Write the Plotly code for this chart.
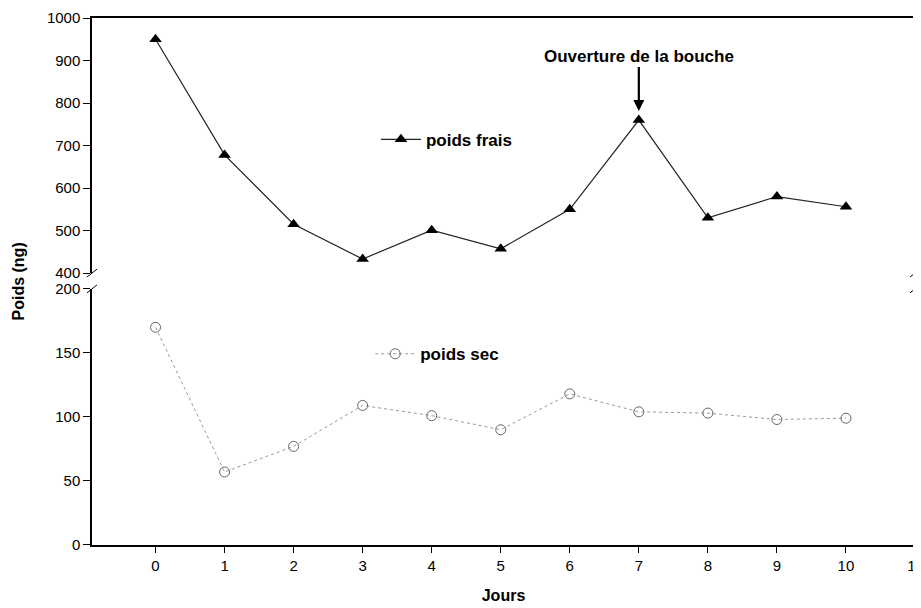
import plotly.graph_objects as go

jours = [0, 1, 2, 3, 4, 5, 6, 7, 8, 9, 10]
poids_frais = [950, 678, 515, 433, 501, 457, 550, 760, 530, 580, 556]
poids_sec = [170, 57, 77, 109, 101, 90, 118, 104, 103, 98, 99]
x_ticks = list(range(0, 12))
y_ticks_haut = [400, 500, 600, 700, 800, 900, 1000]
y_ticks_bas = [0, 50, 100, 150, 200]

FONT = "Liberation Sans, Arial, sans-serif"

fig = go.Figure()

fig.add_trace(go.Scatter(
    x=jours, y=poids_frais, name="<b>poids frais</b>", mode="lines+markers",
    xaxis="x2", yaxis="y2", legend="legend",
    line=dict(color="#222222", width=1.2),
    marker=dict(symbol="triangle-up", size=11, color="black"),
))
fig.add_trace(go.Scatter(
    x=jours, y=poids_sec, name="<b>poids sec</b>", mode="lines+markers",
    xaxis="x", yaxis="y", legend="legend2",
    line=dict(color="#9a9a9a", width=1, dash="dot"),
    marker=dict(symbol="circle-open", size=10, color="#666666", line=dict(width=1)),
))

xr = [-0.92, 11]
low_top = 0.486
up_bot = 0.516

fig.update_layout(
    width=921, height=608,
    margin=dict(l=84, r=14, t=10, b=71, autoexpand=False),
    paper_bgcolor="white", plot_bgcolor="white",
    font=dict(family=FONT, size=15, color="black"),
    xaxis=dict(domain=[0, 1], range=xr, anchor="y", tickvals=x_ticks,
               ticks="outside", ticklen=6, tickcolor="black", showgrid=False,
               zeroline=False, showline=True, linecolor="black", linewidth=1.5,
               tickfont=dict(size=15), automargin=False, ticklabeloverflow="allow",
               title=dict(text="<b>Jours</b>", font=dict(size=16), standoff=17)),
    xaxis2=dict(domain=[0, 1], range=xr, anchor="y2", side="top", matches="x",
                showticklabels=False, ticks="", showgrid=False, zeroline=False,
                showline=True, linecolor="black", linewidth=1.5, automargin=False),
    yaxis=dict(domain=[0, low_top], range=[0, 200], tickvals=y_ticks_bas,
               ticks="outside", ticklen=7, tickcolor="black", showgrid=False,
               zeroline=False, showline=True, mirror=True, linecolor="black",
               linewidth=1.5, tickfont=dict(size=15), automargin=False,
               ticklabeloverflow="allow"),
    yaxis2=dict(domain=[up_bot, 1], range=[400, 1000], tickvals=y_ticks_haut,
                ticks="outside", ticklen=7, tickcolor="black", showgrid=False,
                zeroline=False, showline=True, mirror=True, linecolor="black",
                linewidth=1.5, tickfont=dict(size=15), automargin=False,
                ticklabeloverflow="allow"),
    legend=dict(x=0.345, y=0.769, xanchor="left", yanchor="middle",
                bgcolor="rgba(0,0,0,0)", font=dict(size=17, family=FONT),
                itemwidth=40),
    legend2=dict(x=0.338, y=0.362, xanchor="left", yanchor="middle",
                 bgcolor="rgba(0,0,0,0)", font=dict(size=17, family=FONT),
                 itemwidth=40),
    showlegend=True,
)

# Y axis title spanning both panels
fig.add_annotation(
    text="<b>Poids (ng)</b>", xref="paper", yref="paper", x=0, y=0.5,
    xanchor="center", yanchor="middle",
    xshift=-74, textangle=-90, showarrow=False, font=dict(size=16),
)

# Annotation with arrow
fig.add_annotation(
    text="<b>Ouverture de la bouche</b>", x=7, y=poids_frais[7],
    xref="x2", yref="y2", ax=0, ay=-64, showarrow=True,
    arrowhead=2, arrowsize=1, arrowwidth=2.2, arrowcolor="black",
    standoff=9, font=dict(size=17),
)

# Axis break marks
for xp in (0, 1):
    for yp in (up_bot, low_top):
        fig.add_shape(type="line", xref="paper", yref="paper",
                      xsizemode="pixel", ysizemode="pixel",
                      xanchor=xp, yanchor=yp, x0=-5, x1=5, y0=-4, y1=4,
                      line=dict(color="black", width=1))

fig.write_html("out.html")
